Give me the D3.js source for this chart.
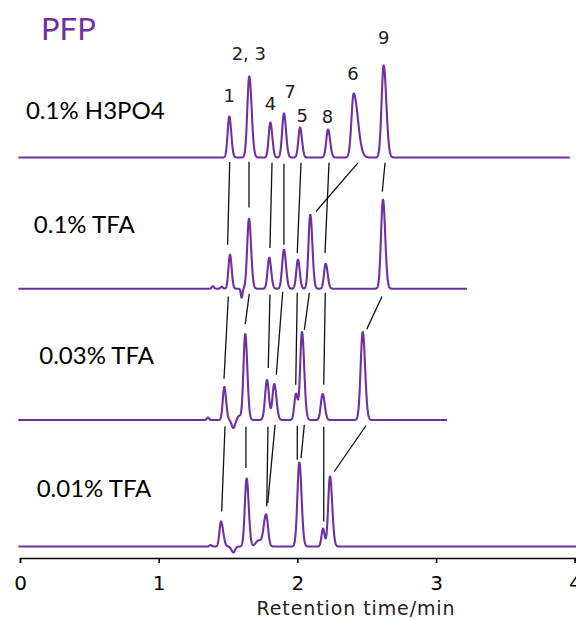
<!DOCTYPE html>
<html>
<head>
<meta charset="utf-8">
<script src="https://cdn.jsdelivr.net/npm/d3@7/dist/d3.min.js"></script>
<style>
  html, body { margin: 0; padding: 0; background: #fff; }
  svg { display: block; }
</style>
</head>
<body>
<svg id="chart" width="576" height="618"></svg>
<script>
// ---------------- DATA ----------------
const title = "PFP";
const conditions = ["0.1% H3PO4", "0.1% TFA", "0.03% TFA", "0.01% TFA"];
const traceOffsets = [389, 257.8, 126.5, 0];          // stacked signal offsets (a.u.)
const traceStart = [-0.012, -0.012, -0.012, -0.012];   // min
const traceEnd = [3.965, 3.223, 3.079, 4.05];         // min
// label anchor positions [time (min), signal]
const conditionLabelPos = [[0.043, 427.2], [0.10, 313.8], [0.139, 182.5], [0.12, 49.8]];

// peaks per trace: [retention time (min), height (a.u.), sigma left, sigma right]
const peaksH3PO4 = [
  [1.509, 41, 0.012, 0.014],
  [1.653, 81, 0.014, 0.017],
  [1.805, 35, 0.012, 0.014],
  [1.903, 44, 0.013, 0.015],
  [2.019, 30, 0.012, 0.014],
  [2.221, 28, 0.013, 0.015],
  [2.406, 64, 0.016, 0.030],
  [2.622, 92, 0.015, 0.019]
];
const peaksTFA01 = [
  [1.391, 2.5, 0.008, 0.008],
  [1.454, 2, 0.008, 0.008],
  [1.514, 34, 0.011, 0.012],
  [1.598, -9, 0.006, 0.006],
  [1.651, 70, 0.013, 0.015],
  [1.797, 31, 0.012, 0.014],
  [1.903, 39, 0.013, 0.015],
  [2.004, 29, 0.012, 0.013],
  [2.093, 74, 0.013, 0.015],
  [2.204, 25, 0.012, 0.014],
  [2.617, 89, 0.014, 0.016]
];
const peaksTFA003 = [
  [1.355, 2.5, 0.008, 0.008],
  [1.473, 33, 0.011, 0.013],
  [1.538, -8, 0.012, 0.012],
  [1.580, 4, 0.012, 0.012],
  [1.624, 86, 0.013, 0.015],
  [1.781, 40, 0.014, 0.014],
  [1.833, 36, 0.013, 0.016],
  [1.990, 26, 0.012, 0.012],
  [2.033, 88, 0.013, 0.016],
  [2.182, 26, 0.013, 0.015],
  [2.471, 88, 0.015, 0.017]
];
const peaksTFA001 = [
  [1.375, 1.5, 0.008, 0.008],
  [1.449, 25, 0.011, 0.016],
  [1.538, -6, 0.013, 0.013],
  [1.634, 68, 0.013, 0.015],
  [1.720, 6, 0.020, 0.020],
  [1.774, 32, 0.017, 0.014],
  [2.014, 84, 0.014, 0.016],
  [2.185, 18, 0.011, 0.011],
  [2.235, 70, 0.013, 0.016]
];
const tracePeaks = [peaksH3PO4, peaksTFA01, peaksTFA003, peaksTFA001];

// peak number labels on top trace: [text, time, signal]
const peakLabels = [
  ["1", 1.509, 444.8],
  ["2, 3", 1.650, 486.5],
  ["4", 1.805, 436.5],
  ["7", 1.947, 448.8],
  ["5", 2.035, 424.8],
  ["8", 2.216, 423.2],
  ["6", 2.401, 466.5],
  ["9", 2.622, 502.5]
];

// connector lines between traces: [[t1, s1], [t2, s2]]
const connectors = [
  // H3PO4 -> 0.1% TFA
  [[1.512, 384.4], [1.497, 301.7]],
  [[1.651, 384.7], [1.651, 339.0]],
  [[1.817, 383.7], [1.802, 298.4]],
  [[1.903, 382.7], [1.903, 301.7]],
  [[2.026, 383.7], [1.999, 293.4]],
  [[2.228, 383.7], [2.199, 293.4]],
  [[2.435, 383.4], [2.134, 335.0]],
  [[2.632, 383.7], [2.612, 355.0]],
  // 0.1% TFA -> 0.03% TFA
  [[1.502, 250.0], [1.471, 167.7]],
  [[1.653, 252.7], [1.624, 222.4]],
  [[1.802, 251.7], [1.790, 178.4]],
  [[1.894, 254.7], [1.848, 171.7]],
  [[1.999, 253.7], [1.988, 161.7]],
  [[2.086, 253.7], [2.050, 216.7]],
  [[2.201, 253.7], [2.190, 161.7]],
  [[2.610, 250.0], [2.500, 217.4]],
  // 0.03% TFA -> 0.01% TFA
  [[1.478, 120.0], [1.454, 35.0]],
  [[1.629, 119.7], [1.629, 78.4]],
  [[1.788, 119.7], [1.779, 40.0]],
  [[1.839, 121.7], [1.786, 43.4]],
  [[1.999, 120.7], [1.999, 86.7]],
  [[2.050, 121.7], [2.026, 88.4]],
  [[2.190, 119.7], [2.190, 25.0]],
  [[2.495, 121.0], [2.266, 75.0]]
];

const xTicks = [0, 1, 2, 3, 4];
const xTitle = "Retention time/min";

// ---------------- DRAW ----------------
const purple = "#7030A0";
const svg = d3.select("#chart");

const x = d3.scaleLinear().domain([0, 4]).range([20, 574.8]);
const y = d3.scaleLinear().domain([0, 400]).range([546.5, 146.5]);

function signal(peaks, t) {
  let s = 0;
  for (const [c, h, sl, sr] of peaks) {
    const sg = t < c ? sl : sr;
    const z = (t - c) / sg;
    s += h * Math.exp(-0.5 * z * z);
  }
  return s;
}

const line = d3.line().x(d => x(d[0])).y(d => y(d[1]));

tracePeaks.forEach((peaks, i) => {
  const pts = d3.range(traceStart[i], traceEnd[i], 0.0005)
    .map(t => [t, traceOffsets[i] + signal(peaks, t)]);
  svg.append("path")
    .attr("d", line(pts))
    .attr("fill", "none")
    .attr("stroke", purple)
    .attr("stroke-width", 2.1)
    .attr("stroke-linejoin", "round");
});

// connectors
svg.append("g").selectAll("line").data(connectors).join("line")
  .attr("x1", d => x(d[0][0])).attr("y1", d => y(d[0][1]))
  .attr("x2", d => x(d[1][0])).attr("y2", d => y(d[1][1]))
  .attr("stroke", "#111").attr("stroke-width", 1.3);

// peak labels
svg.append("g").selectAll("text").data(peakLabels).join("text")
  .attr("x", d => x(d[1])).attr("y", d => y(d[2]))
  .attr("text-anchor", "middle")
  .attr("font-family", "DejaVu Sans")
  .attr("font-size", 18)
  .attr("fill", "#222")
  .text(d => d[0]);

// condition labels
svg.append("g").selectAll("text").data(conditions).join("text")
  .attr("x", (d, i) => x(conditionLabelPos[i][0]))
  .attr("y", (d, i) => y(conditionLabelPos[i][1]))
  .attr("font-family", "Lato")
  .attr("font-size", 24)
  .attr("fill", "#000")
  .text(d => d);

// title
svg.append("text")
  .attr("x", 41).attr("y", 40)
  .attr("font-family", "Lato")
  .attr("font-size", 31)
  .attr("fill", purple)
  .text(title);

// axis
const axis = svg.append("g")
  .attr("transform", "translate(0,558)")
  .call(d3.axisBottom(x).tickValues(xTicks).tickFormat(d3.format("d")).tickSize(5).tickPadding(13));
axis.select(".domain").attr("stroke", "#000").attr("stroke-width", 1.5);
axis.selectAll(".tick line").attr("stroke", "#000").attr("stroke-width", 1.5);
axis.selectAll(".tick text")
  .attr("font-family", "DejaVu Sans")
  .attr("font-size", 20)
  .attr("fill", "#000");

svg.append("text")
  .attr("x", 356).attr("y", 615)
  .attr("text-anchor", "middle")
  .attr("font-family", "DejaVu Sans")
  .attr("font-size", 19)
  .attr("letter-spacing", 0.9)
  .attr("fill", "#222")
  .text(xTitle);
</script>
</body>
</html>
